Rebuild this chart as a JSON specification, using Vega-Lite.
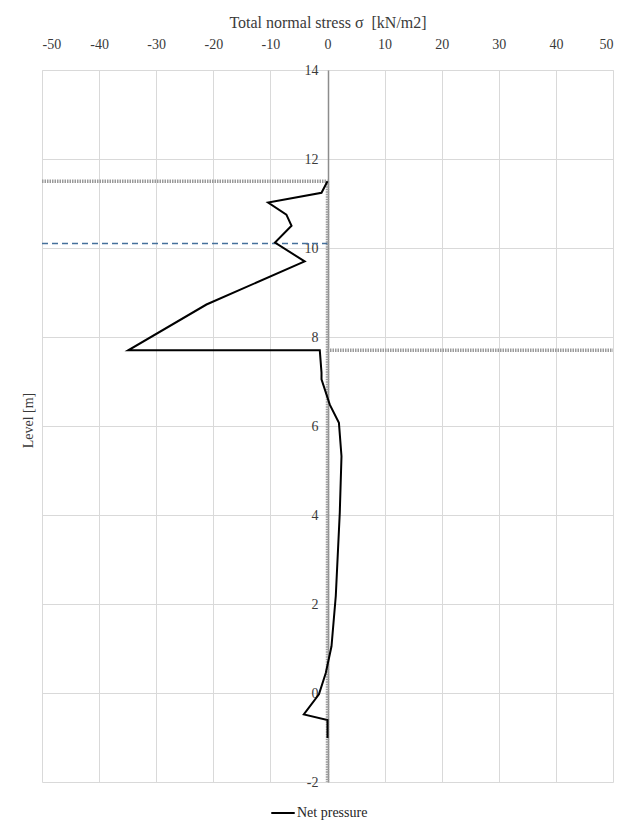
{
  "$schema": "https://vega.github.io/schema/vega-lite/v6.json",
  "autosize": {"type": "none"},
  "width": 571,
  "height": 712,
  "padding": {"left": 42, "top": 70, "right": 12, "bottom": 43},
  "background": "white",
  "config": {
    "font": "Liberation Serif",
    "view": {"stroke": null},
    "axis": {"labelFont": "Liberation Serif", "titleFont": "Liberation Serif", "labelColor": "#3a3a3a", "titleColor": "#3a3a3a", "titleFontWeight": "normal"},
    "legend": {"labelFont": "Liberation Serif"}
  },
  "datasets": {
    "net": [
      {"i": 1, "stress": 0.0, "level": 11.5, "series": "Net pressure"},
      {"i": 2, "stress": -1.05, "level": 11.24, "series": "Net pressure"},
      {"i": 3, "stress": -10.4, "level": 11.02, "series": "Net pressure"},
      {"i": 4, "stress": -7.2, "level": 10.75, "series": "Net pressure"},
      {"i": 5, "stress": -6.3, "level": 10.5, "series": "Net pressure"},
      {"i": 6, "stress": -9.2, "level": 10.12, "series": "Net pressure"},
      {"i": 7, "stress": -4.0, "level": 9.7, "series": "Net pressure"},
      {"i": 8, "stress": -21.2, "level": 8.73, "series": "Net pressure"},
      {"i": 9, "stress": -34.9, "level": 7.7, "series": "Net pressure"},
      {"i": 10, "stress": -1.35, "level": 7.7, "series": "Net pressure"},
      {"i": 11, "stress": -1.05, "level": 7.2, "series": "Net pressure"},
      {"i": 12, "stress": -1.05, "level": 7.05, "series": "Net pressure"},
      {"i": 13, "stress": 0.4, "level": 6.48, "series": "Net pressure"},
      {"i": 14, "stress": 2.0, "level": 6.07, "series": "Net pressure"},
      {"i": 15, "stress": 2.45, "level": 5.32, "series": "Net pressure"},
      {"i": 16, "stress": 2.15, "level": 4.05, "series": "Net pressure"},
      {"i": 17, "stress": 1.45, "level": 2.18, "series": "Net pressure"},
      {"i": 18, "stress": 0.7, "level": 1.05, "series": "Net pressure"},
      {"i": 19, "stress": -0.3, "level": 0.45, "series": "Net pressure"},
      {"i": 20, "stress": -1.5, "level": -0.03, "series": "Net pressure"},
      {"i": 21, "stress": -4.15, "level": -0.48, "series": "Net pressure"},
      {"i": 22, "stress": 0.0, "level": -0.61, "series": "Net pressure"},
      {"i": 23, "stress": 0.0, "level": -1.01, "series": "Net pressure"}
    ],
    "levels": [
      {"x": -50, "x2": 0, "y": 11.5, "y2": 11.5},
      {"x": 0, "x2": 50, "y": 7.7, "y2": 7.7},
      {"x": 0, "x2": 0, "y": 11.5, "y2": -2}
    ],
    "water": [
      {"x": -50, "x2": 0, "y": 10.1}
    ]
  },
  "layer": [
    {
      "data": {"name": "levels"},
      "mark": {"type": "rule", "color": "#9a9a9a", "strokeWidth": 3.5, "strokeDash": [1.5, 1]},
      "encoding": {
        "x": {
          "field": "x", "type": "quantitative",
          "scale": {"domain": [-50, 50], "nice": false, "zero": false},
          "axis": {
            "orient": "top", "values": [-50, -40, -30, -20, -10, 0, 10, 20, 30, 40, 50],
            "labelExpr": "'' + datum.value",
            "title": "Total normal stress σ\u00a0 [kN/m2]", "titleFontSize": 16, "titlePadding": 7,
            "labelFontSize": 14, "labelPadding": 19, "ticks": false,
            "domainColor": "#d9d9d9", "gridColor": "#d9d9d9", "grid": true
          }
        },
        "x2": {"field": "x2"},
        "y": {
          "field": "y", "type": "quantitative",
          "scale": {"domain": [-2, 14], "nice": false, "zero": false},
          "axis": {
            "values": [-2, 0, 2, 4, 6, 8, 10, 12, 14], "offset": -286,
            "labelExpr": "'' + datum.value",
            "title": "Level [m]", "titleFontSize": 14, "titleAngle": -90,
            "titleX": -300, "titleY": 350, "titleAlign": "center", "titleBaseline": "middle",
            "labelFontSize": 14, "labelPadding": 10, "ticks": false,
            "domainColor": "#8c8c8c", "domainWidth": 1.5, "gridColor": "#d9d9d9", "grid": true
          }
        },
        "y2": {"field": "y2"}
      }
    },
    {
      "data": {"name": "water"},
      "mark": {"type": "rule", "color": "#45709b", "strokeWidth": 1.5, "strokeDash": [6, 4]},
      "encoding": {
        "x": {"field": "x", "type": "quantitative"},
        "x2": {"field": "x2"},
        "y": {"field": "y", "type": "quantitative"}
      }
    },
    {
      "data": {"name": "net"},
      "mark": {"type": "line", "strokeWidth": 2, "strokeJoin": "miter", "interpolate": "linear"},
      "encoding": {
        "x": {"field": "stress", "type": "quantitative"},
        "y": {"field": "level", "type": "quantitative"},
        "order": {"field": "i", "type": "quantitative"},
        "color": {
          "field": "series", "type": "nominal",
          "scale": {"domain": ["Net pressure"], "range": ["#000000"]},
          "legend": {
            "title": null, "orient": "none", "legendX": 228, "legendY": 730,
            "symbolType": "stroke", "symbolStrokeWidth": 2, "symbolSize": 550,
            "labelFontSize": 14, "labelColor": "#262626", "labelOffset": 1
          }
        }
      }
    }
  ]
}
